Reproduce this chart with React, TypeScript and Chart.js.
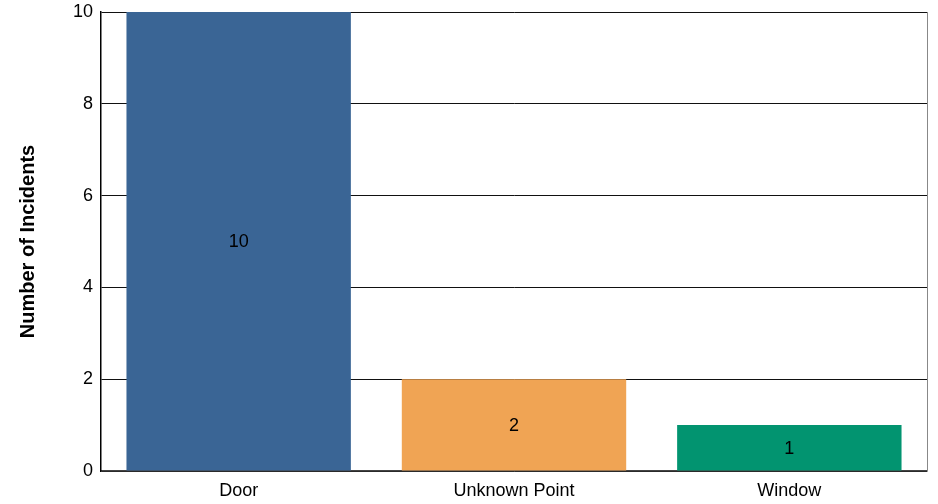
import React, { useEffect, useRef } from "react";
import { Chart, registerables } from "chart.js";

Chart.register(...registerables);

const categories = ["Door", "Unknown Point", "Window"];
const incidents = [10, 2, 1];
const barColors = ["#3a6595", "#f0a454", "#029470"];
const yTicks = [0, 2, 4, 6, 8, 10];

const FONT = "'Liberation Sans', Arial, sans-serif";

const valueLabels = {
  id: "valueLabels",
  afterDatasetsDraw(chart: any) {
    const ctx = chart.ctx;
    const meta = chart.getDatasetMeta(0);
    ctx.save();
    ctx.font = `18px ${FONT}`;
    ctx.fillStyle = "#000";
    ctx.textAlign = "center";
    ctx.textBaseline = "middle";
    meta.data.forEach((bar: any, i: number) => {
      const p = bar.getProps(["x", "y", "base"], true);
      ctx.fillText(String(incidents[i]), p.x, (p.y + p.base) / 2 + 1);
    });
    ctx.restore();
  },
};

const rightBorder = {
  id: "rightBorder",
  afterDraw(chart: any) {
    const { ctx, chartArea } = chart;
    ctx.save();
    ctx.strokeStyle = "#888";
    ctx.lineWidth = 1;
    ctx.beginPath();
    ctx.moveTo(Math.round(chartArea.right) + 0.5, chartArea.top);
    ctx.lineTo(Math.round(chartArea.right) + 0.5, chartArea.bottom);
    ctx.stroke();
    ctx.restore();
  },
};

export default function App() {
  const ref = useRef<HTMLCanvasElement>(null);
  useEffect(() => {
    if (!ref.current) return;
    const chart = new Chart(ref.current, {
      type: "bar",
      data: {
        labels: categories,
        datasets: [
          {
            data: incidents,
            backgroundColor: barColors,
            borderWidth: 0,
            barPercentage: 0.815,
            categoryPercentage: 1,
          },
        ],
      },
      options: {
        animation: false,
        responsive: false,
        layout: { padding: { top: 0, right: 11, left: 0, bottom: 0 } },
        plugins: { legend: { display: false }, tooltip: { enabled: false } },
        scales: {
          x: {
            grid: { display: false, drawTicks: false },
            border: { display: true, color: "#444", width: 1.5 },
            ticks: {
              color: "#000",
              font: { family: FONT, size: 18 },
              padding: 9,
            },
            afterFit: (s: any) => {
              s.height = 33;
              s.paddingLeft = 0;
              s.paddingRight = 0;
            },
          },
          y: {
            min: 0,
            max: 10,
            afterBuildTicks: (s: any) => {
              s.ticks = yTicks.map((v) => ({ value: v }));
            },
            grid: { color: "#111", lineWidth: 1, drawTicks: false },
            border: { display: true, color: "#000", width: 1.5 },
            ticks: {
              color: "#000",
              font: { family: FONT, size: 18 },
              padding: 8,
            },
            title: {
              display: true,
              text: "Number of Incidents",
              color: "#000",
              font: { family: FONT, size: 20, weight: "bold" },
              padding: { top: 16, bottom: 0 },
            },
            afterFit: (s: any) => {
              s.width = 101;
              s.paddingTop = 12;
              s.paddingBottom = 0;
            },
          },
        },
      },
      plugins: [valueLabels, rightBorder],
    });
    return () => chart.destroy();
  }, []);
  return (
    <div style={{ position: "fixed", left: 0, top: 0, width: 938, height: 504, background: "#fff" }}>
      <canvas ref={ref} width={938} height={504} style={{ width: 938, height: 504 }} />
    </div>
  );
}
